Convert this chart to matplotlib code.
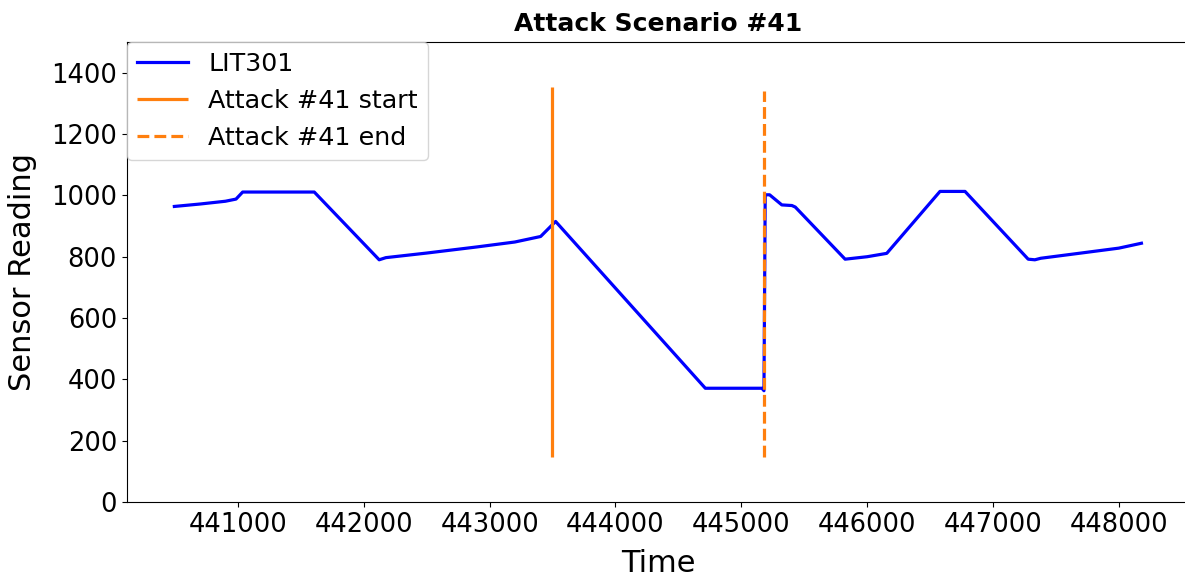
import matplotlib
matplotlib.use("Agg")
import matplotlib.pyplot as plt

# LIT301 sensor readings (time, value)
time = [440494, 440700, 440900, 440984, 441037, 441300, 441606, 442122, 442175,
        442500, 442900, 443200, 443405, 443524, 444714, 445164, 445180, 445190,
        445225, 445322, 445402, 445429, 445825, 446000, 446156, 446579, 446778,
        447280, 447333, 447380, 447700, 448000, 448180]
values = [964, 972, 981, 988, 1011, 1011, 1011, 790, 797,
          812, 832, 848, 866, 915, 371, 371, 363, 1002,
          1002, 969, 967, 962, 792, 800, 811, 1013, 1013,
          792, 790, 795, 812, 828, 844]

attack_start = 443492
attack_end = 445183
start_span = (147, 1352)
end_span = (147, 1340)

fig = plt.figure(figsize=(11.85, 5.77), dpi=100)
ax = fig.add_axes([0.107, 0.130, 0.897, 0.797])

ax.plot(time, values, color="blue", lw=2.3, label="LIT301")
ax.vlines(attack_start, start_span[0], start_span[1], color="#ff7f0e", lw=2.3,
          label="Attack #41 start")
ax.vlines(attack_end, end_span[0], end_span[1], color="#ff7f0e", lw=2.3,
          linestyles="--", label="Attack #41 end")

ax.set_ylim(0, 1500)
ax.set_xlim(440116, 448564)
ax.set_xticks([441000, 442000, 443000, 444000, 445000, 446000, 447000, 448000])
ax.set_yticks([0, 200, 400, 600, 800, 1000, 1200, 1400])
ax.tick_params(labelsize=18.5)
ax.set_xlabel("Time", fontsize=22, labelpad=8)
ax.set_ylabel("Sensor Reading", fontsize=22, labelpad=10)
ax.set_title("Attack Scenario #41", fontsize=18, fontweight="bold", pad=8)
ax.spines["right"].set_visible(False)
ax.legend(loc="upper left", fontsize=18.3, borderaxespad=0)

fig.savefig("out.png", dpi=100)
